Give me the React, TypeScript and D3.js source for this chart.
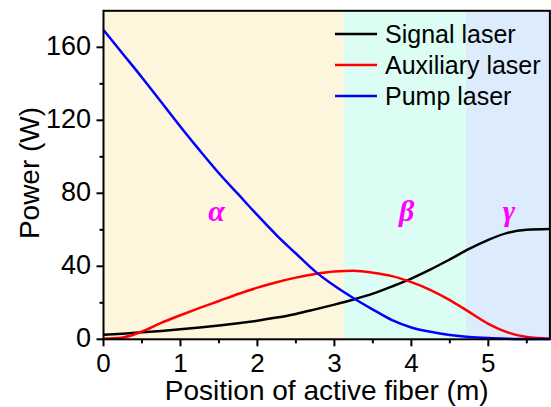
import React from "react";
import * as d3 from "d3";

const xPos = [0, 0.25, 0.5, 0.75, 1, 1.25, 1.5, 1.75, 2, 2.25, 2.5, 2.75, 3, 3.25, 3.5, 3.75, 4, 4.25, 4.5, 4.75, 5, 5.25, 5.5, 5.8];
const pump = [169.5, 156.5, 143.5, 130, 116.5, 103.5, 91, 79.5, 68, 57, 47, 37.2, 29.3, 22.5, 16.3, 10.5, 6.5, 4.1, 2.4, 1.3, 0.7, 0.35, 0.15, 0.1];
const aux = [0.3, 1, 4.3, 9, 13.2, 17.2, 21, 24.8, 28.3, 31.3, 33.8, 35.8, 37.1, 37.5, 36.5, 34.6, 31.3, 27, 21.5, 15, 8.5, 3.8, 1.2, 0.3];
const signal = [2.5, 3.1, 3.8, 4.6, 5.5, 6.5, 7.6, 8.8, 10.2, 11.9, 13.9, 16.4, 19, 21.8, 25, 29, 33.3, 38.3, 43.8, 49.5, 54.5, 58.3, 60, 60.4];

const xTicks = [0, 1, 2, 3, 4, 5];
const xMinor = [0.5, 1.5, 2.5, 3.5, 4.5, 5.5];
const yTicks = [0, 40, 80, 120, 160];
const yMinor = [20, 60, 100, 140];

const regions = [
  { x0: 0, x1: 3.12, color: "#fdf5dc", label: "α", lx: 1.47 },
  { x0: 3.12, x1: 4.71, color: "#dcfdf4", label: "β", lx: 3.94 },
  { x0: 4.71, x1: 5.8, color: "#dcecfc", label: "γ", lx: 5.27 },
];

const series = [
  { name: "Signal laser", values: signal, color: "#000000" },
  { name: "Auxiliary laser", values: aux, color: "#ff0000" },
  { name: "Pump laser", values: pump, color: "#0000ff" },
];

export default function App() {
  const W = 551, H = 407;
  const x = d3.scaleLinear().domain([0, 5.8]).range([103.5, 549.9]);
  const y = d3.scaleLinear().domain([0, 180]).range([339.3, 10.8]);
  const line = (vals: number[]) =>
    d3.line<number>().x((_, i) => x(xPos[i])).y((d) => y(d)).curve(d3.curveMonotoneX)(vals) || "";
  const font = "Arial, 'Liberation Sans', sans-serif";
  const x0 = x(0), x1 = x(5.8), y0 = y(0), y1 = y(180);
  return (
    <svg width={W} height={H} style={{ position: "absolute", left: 0, top: 0 }} fontFamily={font}>
      <rect x={0} y={0} width={W} height={H} fill="#fff" />
      {regions.map((r) => (
        <rect key={r.label} x={x(r.x0)} y={y1} width={x(r.x1) - x(r.x0)} height={y0 - y1} fill={r.color} />
      ))}
      {regions.map((r) => (
        <text key={"l" + r.label} x={x(r.lx)} y={y(65)} textAnchor="middle" fill="#ff00ff" fontSize={30}
          fontWeight="bold" fontStyle="italic" fontFamily="'Liberation Serif', 'Times New Roman', serif">{r.label}</text>
      ))}
      {series.map((s) => (
        <path key={s.name} d={line(s.values)} fill="none" stroke={s.color} strokeWidth={2.5} />
      ))}
      <rect x={x0} y={y1} width={x1 - x0} height={y0 - y1} fill="none" stroke="#000" strokeWidth={2} />
      {xTicks.map((t) => (
        <g key={"xt" + t}>
          <line x1={x(t)} x2={x(t)} y1={y0} y2={y0 + 7} stroke="#000" strokeWidth={2} />
          <text x={x(t)} y={371.5} textAnchor="middle" fontSize={26}>{t}</text>
        </g>
      ))}
      {xMinor.map((t) => (
        <line key={"xm" + t} x1={x(t)} x2={x(t)} y1={y0} y2={y0 + 4} stroke="#000" strokeWidth={2} />
      ))}
      {yTicks.map((t) => (
        <g key={"yt" + t}>
          <line x1={x0} x2={x0 - 7} y1={y(t)} y2={y(t)} stroke="#000" strokeWidth={2} />
          <text x={91} y={y(t) + 8} textAnchor="end" fontSize={27}>{t}</text>
        </g>
      ))}
      {yMinor.map((t) => (
        <line key={"ym" + t} x1={x0} x2={x0 - 4} y1={y(t)} y2={y(t)} stroke="#000" strokeWidth={2} />
      ))}
      <text x={326.7} y={400} textAnchor="middle" fontSize={28}>Position of active fiber (m)</text>
      <text transform="translate(39,173) rotate(-90)" textAnchor="middle" fontSize={28}>Power (W)</text>
      {series.map((s, i) => (
        <g key={"lg" + s.name}>
          <line x1={335} x2={377} y1={34 + i * 31} y2={34 + i * 31} stroke={s.color} strokeWidth={2.5} />
          <text x={385} y={34 + i * 31 + 8.5} fontSize={25}>{s.name}</text>
        </g>
      ))}
    </svg>
  );
}
